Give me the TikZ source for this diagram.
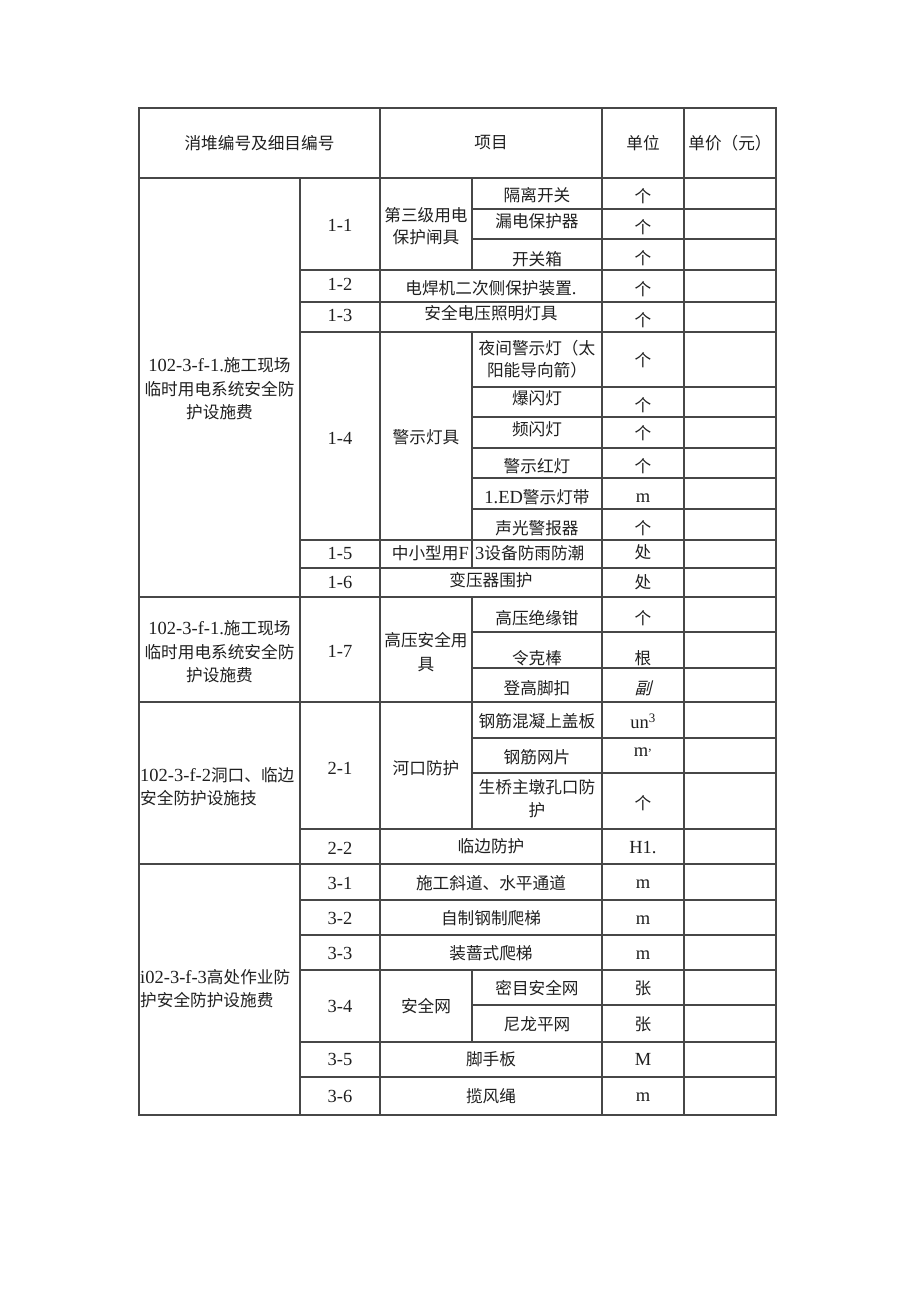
\documentclass[tikz,border=0pt]{standalone}
\usepackage{fontspec}
\setmainfont{Liberation Serif}
\newfontfamily\cjk[Scale=0.9]{Noto Sans CJK SC}
\newfontfamily\cjkslant[Scale=0.9,FakeSlant=0.25]{Noto Sans CJK SC}
\begin{document}
\begin{tikzpicture}[x=1pt,y=-1pt,
    rule/.style={line width=1.1pt,draw=black!72},
    cell/.style={inner sep=0pt,text=black!88,font=\fontsize{18.5}{23}\selectfont},
    cell2/.style={cell,align=center}]
    \useasboundingbox (0,0) rectangle (920,1301);
    % outer frame and columns
    \draw[rule] (139,108) rectangle (776,1115);
    \draw[rule] (380,108) -- (380,1115);
    \draw[rule] (602,108) -- (602,1115);
    \draw[rule] (684,108) -- (684,1115);
    \draw[rule] (300,178) -- (300,1115);
    \draw[rule] (472,178) -- (472,270);
    \draw[rule] (472,332) -- (472,568);
    \draw[rule] (472,597) -- (472,829);
    \draw[rule] (472,970) -- (472,1042);
    % rows
    \foreach \y in {178,597,702,864}
        \draw[rule] (139,\y) -- (776,\y);
    \foreach \y in {270,302,332,540,568,829,900,935,970,1042,1077}
        \draw[rule] (300,\y) -- (776,\y);
    \foreach \y in {209,239,387,417,448,478,509,632,668,738,773,1005}
        \draw[rule] (472,\y) -- (776,\y);

    % header
    \node[cell] (h1) at (259.5,143) {\cjk 消堆编号及细目编号};
    \node[cell] (h2) at (491,143) {\cjk 项目};
    \node[cell] (h3) at (643,143) {\cjk 单位};
    \node[cell] (h4) at (730,143) {\cjk 单价（元）};

    % group 1
    \node[cell2,font=\fontsize{18.5}{23.5}\selectfont] (g1) at (219.5,389) {102-3-f-1.{\cjk 施工现场}\\{\cjk 临时用电系统安全防}\\{\cjk 护设施费}};
    \node[cell] (r11) at (340,225) {1-1};
    \node[cell2,font=\fontsize{18.5}{22}\selectfont] (s11) at (426,226) {\cjk 第三级用电\\\cjk 保护闸具};
    \node[cell] (i1) at (537,195) {\cjk 隔离开关};
    \node[cell] (u1) at (643,196) {\cjk 个};
    \node[cell] (i2) at (537,221) {\cjk 漏电保护器};
    \node[cell] (u2) at (643,227) {\cjk 个};
    \node[cell] (i3) at (537,259) {\cjk 开关箱};
    \node[cell] (u3) at (643,258) {\cjk 个};
    \node[cell] (r12) at (340,284) {1-2};
    \node[cell] (i4) at (491,288) {{\cjk 电焊机二次侧保护装置}.};
    \node[cell] (u4) at (643,289) {\cjk 个};
    \node[cell] (r13) at (340,315) {1-3};
    \node[cell] (i5) at (491,313) {\cjk 安全电压照明灯具};
    \node[cell] (u5) at (643,320) {\cjk 个};
    \node[cell] (r14) at (340,438) {1-4};
    \node[cell] (s14) at (426,437) {\cjk 警示灯具};
    \node[cell2,font=\fontsize{18.5}{22}\selectfont] (i6) at (537,359) {\cjk 夜间警示灯（太\\\cjk 阳能导向箭）};
    \node[cell] (u6) at (643,360) {\cjk 个};
    \node[cell] (i7) at (537,398) {\cjk 爆闪灯};
    \node[cell] (u7) at (643,405) {\cjk 个};
    \node[cell] (i8) at (537,429) {\cjk 频闪灯};
    \node[cell] (u8) at (643,433) {\cjk 个};
    \node[cell] (i9) at (537,466) {\cjk 警示红灯};
    \node[cell] (u9) at (643,466) {\cjk 个};
    \node[cell] (i10) at (537,497) {1.ED{\cjk 警示灯带}};
    \node[cell] (u10) at (643,498) {m};
    \node[cell] (i11) at (537,528) {\cjk 声光警报器};
    \node[cell] (u11) at (643,528) {\cjk 个};
    \node[cell] (r15) at (340,553) {1-5};
    \node[cell,anchor=east] (i12) at (469,553) {{\cjk 中小型用}F};
    \node[cell,anchor=west] (i13) at (475,553) {3{\cjk 设备防雨防潮}};
    \node[cell] (u12) at (643,552) {\cjk 处};
    \node[cell] (r16) at (340,582) {1-6};
    \node[cell] (i14) at (491,580) {\cjk 变压器围护};
    \node[cell] (u13) at (643,582) {\cjk 处};

    % group 2
    \node[cell2,font=\fontsize{18.5}{23.5}\selectfont] (g2) at (219.5,652) {102-3-f-1.{\cjk 施工现场}\\{\cjk 临时用电系统安全防}\\{\cjk 护设施费}};
    \node[cell] (r17) at (340,651) {1-7};
    \node[cell2,font=\fontsize{18.5}{24}\selectfont] (s17) at (426,652) {\cjk 高压安全用\\\cjk 具};
    \node[cell] (i15) at (537,618) {\cjk 高压绝缘钳};
    \node[cell] (u14) at (643,618) {\cjk 个};
    \node[cell] (i16) at (537,658) {\cjk 令克棒};
    \node[cell] (u15) at (643,658) {\cjk 根};
    \node[cell] (i17) at (537,688) {\cjk 登高脚扣};
    \node[cell] (u16) at (643,688) {\cjkslant 副};

    % group 3
    \node[cell,align=left,anchor=west] (g3) at (140,786.5) {102-3-f-2{\cjk 洞口、临边}\\{\cjk 安全防护设施技}};
    \node[cell] (r21) at (340,768) {2-1};
    \node[cell] (s21) at (426,768) {\cjk 河口防护};
    \node[cell] (i18) at (537,721) {\cjk 钢筋混凝上盖板};
    \node[cell] (u17) at (643,721) {un\textsuperscript{3}};
    \node[cell] (i19) at (537,757) {\cjk 钢筋网片};
    \node[cell] (u18) at (643,752) {m\textsuperscript{,}};
    \node[cell2,font=\fontsize{18.5}{23}\selectfont] (i20) at (537,799) {\cjk 生桥主墩孔口防\\\cjk 护};
    \node[cell] (u19) at (643,803) {\cjk 个};
    \node[cell] (r22) at (340,848) {2-2};
    \node[cell] (i21) at (491,846) {\cjk 临边防护};
    \node[cell] (u20) at (643,848) {H1.};

    % group 4
    \node[cell,align=left,anchor=west] (g4) at (140,989) {i02-3-f-3{\cjk 高处作业防}\\{\cjk 护安全防护设施费}};
    \node[cell] (r31) at (340,883) {3-1};
    \node[cell] (i22) at (491,883) {\cjk 施工斜道、水平通道};
    \node[cell] (u21) at (643,884) {m};
    \node[cell] (r32) at (340,918) {3-2};
    \node[cell] (i23) at (491,918) {\cjk 自制钢制爬梯};
    \node[cell] (u22) at (643,920) {m};
    \node[cell] (r33) at (340,953) {3-3};
    \node[cell] (i24) at (491,953) {\cjk 装蔷式爬梯};
    \node[cell] (u23) at (643,955) {m};
    \node[cell] (r34) at (340,1006) {3-4};
    \node[cell] (s34) at (426,1006) {\cjk 安全网};
    \node[cell] (i25) at (537,988) {\cjk 密目安全网};
    \node[cell] (u24) at (643,988) {\cjk 张};
    \node[cell] (i26) at (537,1024) {\cjk 尼龙平网};
    \node[cell] (u25) at (643,1024) {\cjk 张};
    \node[cell] (r35) at (340,1059) {3-5};
    \node[cell] (i27) at (491,1059) {\cjk 脚手板};
    \node[cell] (u26) at (643,1059) {M};
    \node[cell] (r36) at (340,1096) {3-6};
    \node[cell] (i28) at (491,1096) {\cjk 揽风绳};
    \node[cell] (u27) at (643,1097) {m};
\end{tikzpicture}
\end{document}
